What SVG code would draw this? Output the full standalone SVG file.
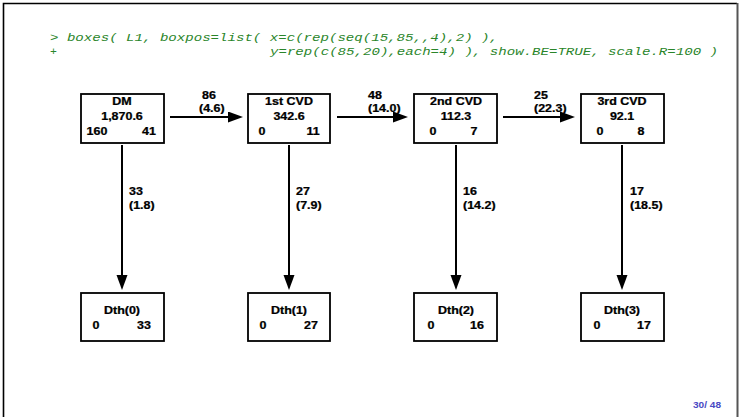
<svg xmlns="http://www.w3.org/2000/svg" width="740" height="417" viewBox="0 0 740 417">
  <style>
    .frame { stroke: #000; stroke-width: 1.6; fill: none; }
    .code { font-family: "Liberation Mono", "DejaVu Sans Mono", monospace; font-style: italic; font-size: 11.5px; fill: #2a852a; }
    .box { fill: #fff; stroke: #000; stroke-width: 1.8; }
    .lbl { font-family: "Liberation Sans", Arial, sans-serif; font-weight: bold; font-size: 10.4px; fill: #000; stroke: #000; stroke-width: 0.25; }
    .mid { text-anchor: middle; }
    .conn { stroke: #000; stroke-width: 2; fill: none; marker-end: url(#head); }
    .pg { font-family: "Liberation Sans", Arial, sans-serif; font-weight: bold; font-size: 8.4px; fill: #4a4ac4; }
  </style>
  <defs>
    <marker id="head" markerUnits="userSpaceOnUse" markerWidth="16" markerHeight="12" refX="5" refY="5.5" orient="auto">
      <path d="M0,0 L15,5.5 L0,11 Z" fill="#000"/>
    </marker>
  </defs>

  <rect width="740" height="417" fill="#fff"/>
  <!-- slide frame -->
  <path class="frame" d="M3.5,417 V3.5 H737"/>
  <path d="M737.5,3 V417" stroke="#555" stroke-width="2" fill="none"/>

  <!-- R command -->
  <text class="code" x="50" y="40.5" textLength="448" lengthAdjust="spacingAndGlyphs">&gt; boxes( L1, boxpos=list( x=c(rep(seq(15,85,,4),2) ),</text>
  <text class="code" x="50" y="54.5">+</text>
  <text class="code" x="270" y="54.5" textLength="448" lengthAdjust="spacingAndGlyphs">y=rep(c(85,20),each=4) ), show.BE=TRUE, scale.R=100 )</text>

  <!-- transitions -->
  <g id="connectors">
    <path class="conn" d="M170,117 H233"/>
    <path class="conn" d="M337,117 H398"/>
    <path class="conn" d="M503,117 H565"/>
    <path class="conn" d="M122,145 V280"/>
    <path class="conn" d="M289,145 V280"/>
    <path class="conn" d="M456,145 V280"/>
    <path class="conn" d="M622,145 V280"/>
    <text class="lbl" transform="translate(202,99) scale(1.2,1)">86</text>
    <text class="lbl" transform="translate(199,112) scale(1.2,1)">(4.6)</text>
    <text class="lbl" transform="translate(368,99) scale(1.2,1)">48</text>
    <text class="lbl" transform="translate(368,112) scale(1.2,1)">(14.0)</text>
    <text class="lbl" transform="translate(534,99) scale(1.2,1)">25</text>
    <text class="lbl" transform="translate(534,112) scale(1.2,1)">(22.3)</text>
    <text class="lbl" transform="translate(129,195) scale(1.2,1)">33</text>
    <text class="lbl" transform="translate(129,209) scale(1.2,1)">(1.8)</text>
    <text class="lbl" transform="translate(296,195) scale(1.2,1)">27</text>
    <text class="lbl" transform="translate(296,209) scale(1.2,1)">(7.9)</text>
    <text class="lbl" transform="translate(463,195) scale(1.2,1)">16</text>
    <text class="lbl" transform="translate(463,209) scale(1.2,1)">(14.2)</text>
    <text class="lbl" transform="translate(630,195) scale(1.2,1)">17</text>
    <text class="lbl" transform="translate(630,209) scale(1.2,1)">(18.5)</text>
  </g>

  <!-- states -->
  <g id="DM">
    <rect class="box" x="81" y="94" width="83" height="49"/>
    <text class="lbl mid" transform="translate(122,105) scale(1.2,1)">DM</text>
    <text class="lbl mid" transform="translate(122,120) scale(1.2,1)">1,870.6</text>
    <text class="lbl mid" transform="translate(97,135) scale(1.2,1)">160</text>
    <text class="lbl mid" transform="translate(149,135) scale(1.2,1)">41</text>
  </g>
  <g id="CVD1">
    <rect class="box" x="248" y="94" width="82" height="49"/>
    <text class="lbl mid" transform="translate(289,105) scale(1.2,1)">1st CVD</text>
    <text class="lbl mid" transform="translate(289,120) scale(1.2,1)">342.6</text>
    <text class="lbl mid" transform="translate(262,135) scale(1.2,1)">0</text>
    <text class="lbl mid" transform="translate(313,135) scale(1.2,1)">11</text>
  </g>
  <g id="CVD2">
    <rect class="box" x="414" y="94" width="83" height="49"/>
    <text class="lbl mid" transform="translate(456,105) scale(1.2,1)">2nd CVD</text>
    <text class="lbl mid" transform="translate(456,120) scale(1.2,1)">112.3</text>
    <text class="lbl mid" transform="translate(433,135) scale(1.2,1)">0</text>
    <text class="lbl mid" transform="translate(474,135) scale(1.2,1)">7</text>
  </g>
  <g id="CVD3">
    <rect class="box" x="581" y="94" width="83" height="49"/>
    <text class="lbl mid" transform="translate(622,105) scale(1.2,1)">3rd CVD</text>
    <text class="lbl mid" transform="translate(622,120) scale(1.2,1)">92.1</text>
    <text class="lbl mid" transform="translate(600,135) scale(1.2,1)">0</text>
    <text class="lbl mid" transform="translate(641,135) scale(1.2,1)">8</text>
  </g>
  <g id="Dth0">
    <rect class="box" x="81" y="293" width="83" height="48"/>
    <text class="lbl mid" transform="translate(122,314) scale(1.2,1)">Dth(0)</text>
    <text class="lbl mid" transform="translate(96,329) scale(1.2,1)">0</text>
    <text class="lbl mid" transform="translate(144,329) scale(1.2,1)">33</text>
  </g>
  <g id="Dth1">
    <rect class="box" x="248" y="293" width="82" height="48"/>
    <text class="lbl mid" transform="translate(289,314) scale(1.2,1)">Dth(1)</text>
    <text class="lbl mid" transform="translate(263,329) scale(1.2,1)">0</text>
    <text class="lbl mid" transform="translate(311,329) scale(1.2,1)">27</text>
  </g>
  <g id="Dth2">
    <rect class="box" x="414" y="293" width="83" height="48"/>
    <text class="lbl mid" transform="translate(456,314) scale(1.2,1)">Dth(2)</text>
    <text class="lbl mid" transform="translate(431,329) scale(1.2,1)">0</text>
    <text class="lbl mid" transform="translate(477,329) scale(1.2,1)">16</text>
  </g>
  <g id="Dth3">
    <rect class="box" x="581" y="293" width="83" height="48"/>
    <text class="lbl mid" transform="translate(622,314) scale(1.2,1)">Dth(3)</text>
    <text class="lbl mid" transform="translate(597,329) scale(1.2,1)">0</text>
    <text class="lbl mid" transform="translate(644,329) scale(1.2,1)">17</text>
  </g>

  <!-- page number -->
  <text class="pg" text-anchor="end" transform="translate(721,408) scale(1.2,1)">30/ 48</text>
</svg>
